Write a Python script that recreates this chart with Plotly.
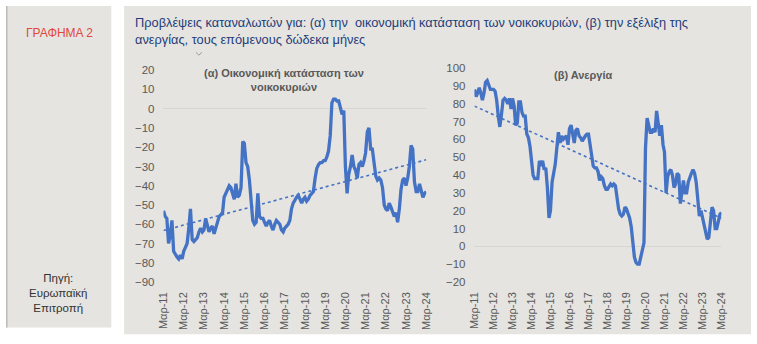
import numpy as np
import pandas as pd
import plotly.graph_objects as go

W, H = 757, 344

# ---- data (monthly, Mar-2011 .. Mar-2024) ----
months = pd.date_range("2011-03-01", "2024-03-01", freq="MS")

household_finances = [
    -53, -56, -57, -70, -66, -58, -74, -76, -77, -78, -76, -78, -74, -72, -70, -62,
    -52, -68, -69, -68, -67, -64, -62, -64, -63, -57, -61, -64, -62, -61, -65, -62,
    -59, -56, -55, -54, -46, -44, -42, -40, -41, -44, -47, -39, -46, -45, -41, -17,
    -18, -28, -30, -37, -48, -58, -60, -59, -44, -56, -57, -57, -59, -61, -59, -58,
    -61, -63, -60, -58, -59, -60, -63, -64, -62, -61, -60, -58, -52, -49, -47, -46,
    -45, -47, -49, -47, -46, -48, -47, -45, -44, -43, -36, -31, -29, -28, -28, -27,
    -27, -25, -22, -14, 3, 5, 5, 4, 4, 1, -3, -1, -30, -44, -34, -30,
    -24, -30, -32, -36, -29, -28, -30, -27, -23, -12, -10, -21, -21, -28, -35, -37,
    -36, -37, -41, -50, -52, -53, -49, -51, -54, -56, -54, -59, -52, -42, -37, -36,
    -40, -36, -30, -19, -21, -38, -43, -43, -39, -42, -46, -44, -43,
]

unemployment = [
    88, 84, 86, 89, 86, 82, 86, 92, 93, 91, 88, 88, 88, 87, 82, 73,
    67, 74, 82, 83, 82, 80, 83, 77, 83, 79, 68, 69, 81, 81, 75, 73,
    73, 63, 61, 56, 47, 40, 38, 38, 38, 48, 45, 48, 43, 44, 33, 16,
    20, 36, 41, 46, 55, 64, 58, 62, 60, 61, 62, 57, 66, 68, 62, 58,
    65, 66, 62, 61, 59, 61, 62, 63, 63, 57, 52, 45, 44, 44, 42, 37,
    39, 38, 34, 32, 32, 34, 35, 34, 35, 34, 27, 21, 18, 17, 18, 22,
    21, 19, 16, 11, 3, -6, -9, -10, -10, -6, -1, 2, 55, 72, 68, 64,
    64, 66, 64, 76, 69, 62, 68, 57, 53, 30, 39, 42, 43, 40, 33, 35,
    41, 40, 24, 31, 37, 30, 30, 36, 39, 41, 43, 41, 36, 27, 17, 20,
    16, 12, 8, 4, 5, 13, 22, 20, 10, 10, 15, 18, 19,
]

tick_dates = pd.date_range("2011-03-01", "2024-03-01", freq="12MS")
tick_labels = ["Μαρ-%02d" % (d.year % 100) for d in tick_dates]

left_yticks = list(range(-90, 21, 10))
right_yticks = list(range(-20, 101, 10))

# ---- styling ----
BLUE = "#4472C4"
GREY_TXT = "#595959"
PANEL = "#e5e4e0"
FONT = "Liberation Sans, Arial, sans-serif"


def px(x):
    return x / W


def py(y):
    return 1 - y / H


def trend(vals):
    idx = np.arange(len(vals))
    k, b = np.polyfit(idx, np.array(vals, dtype=float), 1)
    return k * idx + b


fig = go.Figure()

fig.add_trace(go.Scatter(x=months, y=household_finances, mode="lines",
                         line=dict(color=BLUE, width=3.3), xaxis="x", yaxis="y",
                         showlegend=False, hoverinfo="skip"))
fig.add_trace(go.Scatter(x=months, y=trend(household_finances), mode="lines",
                         line=dict(color=BLUE, width=1.6, dash="dot"), xaxis="x", yaxis="y",
                         showlegend=False, hoverinfo="skip"))
fig.add_trace(go.Scatter(x=months, y=unemployment, mode="lines",
                         line=dict(color=BLUE, width=3.3), xaxis="x2", yaxis="y2",
                         showlegend=False, hoverinfo="skip"))
fig.add_trace(go.Scatter(x=months, y=trend(unemployment), mode="lines",
                         line=dict(color=BLUE, width=1.6, dash="dot"), xaxis="x2", yaxis="y2",
                         showlegend=False, hoverinfo="skip"))

xcommon = dict(type="date", tickvals=list(tick_dates), ticktext=tick_labels,
               tickangle=-90, showgrid=False, zeroline=False, showline=False,
               ticks="", ticklabelstandoff=7,
               tickfont=dict(size=11, color=GREY_TXT, family=FONT),
               range=[months[0], months[-1]], fixedrange=True)
ycommon = dict(showgrid=False, zeroline=True, zerolinecolor="#d6d5d1", zerolinewidth=1,
               showline=False, ticks="", ticklabelstandoff=8,
               tickfont=dict(size=11.5, color=GREY_TXT, family=FONT),
               fixedrange=True)

fig.update_layout(
    width=W, height=H,
    margin=dict(l=0, r=0, t=0, b=0),
    paper_bgcolor="white",
    plot_bgcolor="rgba(0,0,0,0)",
    font=dict(family=FONT),
    xaxis=dict(domain=[px(160), px(427)], anchor="y", **xcommon),
    yaxis=dict(domain=[py(286), py(66.5)], anchor="x", range=[-90, 20],
               tickvals=left_yticks, **ycommon),
    xaxis2=dict(domain=[px(476), px(727)], anchor="y2", **xcommon),
    yaxis2=dict(domain=[py(286), py(64.3)], anchor="x2", range=[-20, 100],
                tickvals=right_yticks, **ycommon),
)

shapes = [
    dict(type="rect", xref="paper", yref="paper", x0=0, x1=px(107), y0=py(333), y1=1,
         fillcolor=PANEL, line=dict(width=0), layer="below"),
    dict(type="line", xref="paper", yref="paper", x0=px(0.8), x1=px(0.8), y0=py(333), y1=1,
         line=dict(color="#bdbcb8", width=1.5), layer="below"),
    dict(type="rect", xref="paper", yref="paper", x0=px(120), x1=1, y0=py(340), y1=1,
         fillcolor=PANEL, line=dict(width=0), layer="below"),
    dict(type="path", xref="paper", yref="paper",
         path="M %f,%f L %f,%f L %f,%f" % (px(193), py(48), px(196), py(51), px(199), py(48)),
         line=dict(color="#9a9a9a", width=1), layer="above"),
]
fig.update_layout(shapes=shapes)

ann = []
ann.append(dict(text="ΓΡΑΦΗΜΑ 2", x=px(54), y=py(28), xref="paper", yref="paper",
                showarrow=False, xanchor="center", yanchor="middle",
                font=dict(size=12, color="#e0483c", family=FONT)))
ann.append(dict(text="Πηγή:<br>Ευρωπαϊκή<br>Επιτροπή", x=px(53), y=py(297), xref="paper", yref="paper",
                showarrow=False, xanchor="center", yanchor="middle", align="center",
                font=dict(size=11.5, color="#333333", family=FONT)))
ann.append(dict(text="Προβλέψεις καταναλωτών για: (α) την  οικονομική κατάσταση των νοικοκυριών, (β) την εξέλιξη της<br>ανεργίας, τους επόμενους δώδεκα μήνες",
                x=px(129), y=py(7), xref="paper", yref="paper", showarrow=False,
                xanchor="left", yanchor="top", align="left",
                font=dict(size=12.8, color="#1f3d7a", family=FONT)))
ann.append(dict(text="<b>(α) Οικονομική κατάσταση των<br>νοικοκυριών</b>", x=px(282), y=py(77),
                xref="paper", yref="paper", showarrow=False, xanchor="center", yanchor="middle",
                align="center", font=dict(size=11, color=GREY_TXT, family=FONT)))
ann.append(dict(text="<b>(β) Ανεργία</b>", x=px(587), y=py(71),
                xref="paper", yref="paper", showarrow=False, xanchor="center", yanchor="middle",
                font=dict(size=11, color=GREY_TXT, family=FONT)))
fig.update_layout(annotations=ann)

fig.write_html("out.html")
